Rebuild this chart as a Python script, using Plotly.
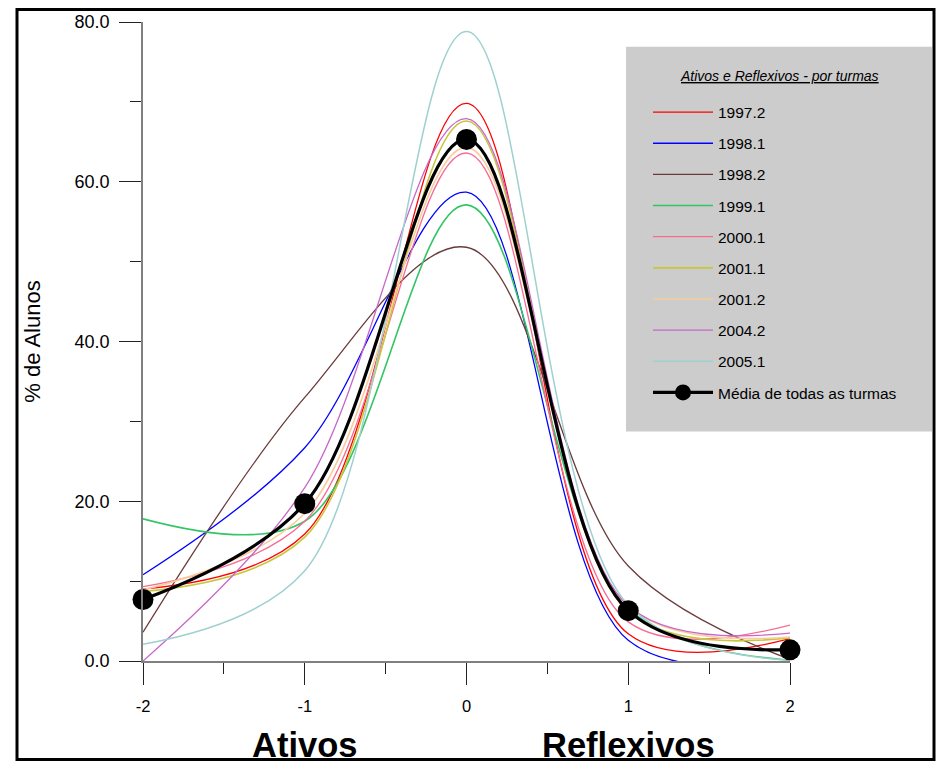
import plotly.graph_objects as go

# ---- data ----
x_vals = [-2, -1, 0, 1, 2]
turmas = ["1997.2", "1998.1", "1998.2", "1999.1", "2000.1",
          "2001.1", "2001.2", "2004.2", "2005.1"]

t_1997_2 = [9.0, 15.9, 69.8, 3.4, 2.8]
t_1998_1 = [10.8, 26.7, 58.7, 2.6, 0.0]
t_1998_2 = [3.6, 33.0, 51.8, 11.9, 0.2]
t_1999_1 = [17.8, 17.5, 57.1, 6.6, 0.1]
t_2000_1 = [9.3, 17.5, 63.6, 4.9, 4.5]
t_2001_1 = [8.7, 15.5, 67.6, 6.2, 2.9]
t_2001_2 = [8.9, 18.5, 64.3, 6.8, 3.0]
t_2004_2 = [0.0, 21.7, 67.9, 6.9, 3.5]
t_2005_1 = [2.1, 11.3, 78.8, 7.0, 0.1]
media = [7.7, 19.7, 65.3, 6.3, 1.4]

y_ticks = [0, 20, 40, 60, 80]

series = [t_1997_2, t_1998_1, t_1998_2, t_1999_1, t_2000_1,
          t_2001_1, t_2001_2, t_2004_2, t_2005_1]
colors = ["#ff0000", "#0000ff", "#6b3b3b", "#33c466", "#f76b93",
          "#c8c63c", "#f9cc9c", "#c766c9", "#9fd0d0"]
widths = [1.3, 1.3, 1.3, 1.6, 1.3, 1.6, 1.6, 1.3, 1.5]

FONT = "Liberation Sans, Arial, sans-serif"
W, H = 941, 763
L, R, T, B = 143, 790, 18, 661
SMOOTH = 1.0


def px(x):
    return (x - L) / (R - L)


def py(y):
    return (B - y) / (B - T)


fig = go.Figure()
for name, vals, col, w in zip(turmas, series, colors, widths):
    fig.add_trace(go.Scatter(
        x=x_vals, y=vals, name=name, mode="lines",
        line=dict(color=col, width=w, shape="spline", smoothing=SMOOTH),
        legendgroup=name, cliponaxis=False))

fig.add_trace(go.Scatter(
    x=x_vals, y=media, name="Média de todas as turmas", mode="lines+markers",
    line=dict(color="black", width=3.2, shape="spline", smoothing=SMOOTH),
    marker=dict(color="black", size=21),
    legendgroup="media", cliponaxis=False))

fig.update_layout(
    width=W, height=H,
    margin=dict(l=L, r=W - R, t=T, b=H - B),
    paper_bgcolor="white", plot_bgcolor="white",
    font=dict(family=FONT, color="black"),
    showlegend=True,
    legend=dict(
        x=px(648), y=py(92), xanchor="left", yanchor="top",
        bgcolor="rgba(0,0,0,0)", borderwidth=0,
        font=dict(size=15.5, family=FONT),
        tracegroupgap=8, itemwidth=60,
    ),
    xaxis=dict(
        range=[-2, 2], tickvals=x_vals, ticktext=[str(v) for v in x_vals],
        showgrid=False, zeroline=False,
        showline=True, linecolor="#808080", linewidth=2,
        ticks="outside", ticklen=22, tickwidth=1.2, tickcolor="#222",
        tickfont=dict(size=16.5, family=FONT),
        ticklabelstandoff=7,
        minor=dict(dtick=0.5, ticks="outside", ticklen=11, tickwidth=1.2,
                   tickcolor="#222", showgrid=False),
    ),
    yaxis=dict(
        range=[0, 80], tickvals=y_ticks, tickformat=".1f",
        showgrid=False, zeroline=False,
        showline=True, linecolor="#808080", linewidth=1.5,
        ticks="outside", ticklen=22, tickwidth=1.2, tickcolor="#222",
        tickfont=dict(size=18, family=FONT),
        ticklabelstandoff=6,
        minor=dict(dtick=10, ticks="outside", ticklen=11, tickwidth=1.2,
                   tickcolor="#222", showgrid=False),
        title=dict(text="% de Alunos", font=dict(size=22, family=FONT),
                   standoff=28),
    ),
    shapes=[
        dict(type="rect", xref="paper", yref="paper",
             x0=px(626), x1=px(932), y0=py(430), y1=py(43),
             fillcolor="#cccccc", line=dict(width=0), layer="below"),
        dict(type="rect", xref="paper", yref="paper",
             x0=px(17), x1=px(934), y0=py(760), y1=py(5.5),
             line=dict(color="black", width=3), fillcolor="rgba(0,0,0,0)"),
    ],
    annotations=[
        dict(text='<i><span style="text-decoration:underline">Ativos e Reflexivos - por turmas</span></i>',
             x=px(779.5), xref="paper", y=py(72), yref="paper",
             showarrow=False, xanchor="center", yanchor="middle",
             font=dict(size=14, family=FONT)),
        dict(text="<b>Ativos</b>", x=-1, xref="x", y=py(746), yref="paper",
             showarrow=False, xanchor="center", yanchor="middle",
             font=dict(size=34.5, family=FONT)),
        dict(text="<b>Reflexivos</b>", x=1, xref="x", y=py(746), yref="paper",
             showarrow=False, xanchor="center", yanchor="middle",
             font=dict(size=34.5, family=FONT)),
    ],
)

fig.write_html(
    "out.html",
    config={"displayModeBar": False},
    post_script=("document.body.style.margin='0';"
                 "document.body.style.overflow='hidden';"
                 "document.documentElement.style.overflow='hidden';"),
)
